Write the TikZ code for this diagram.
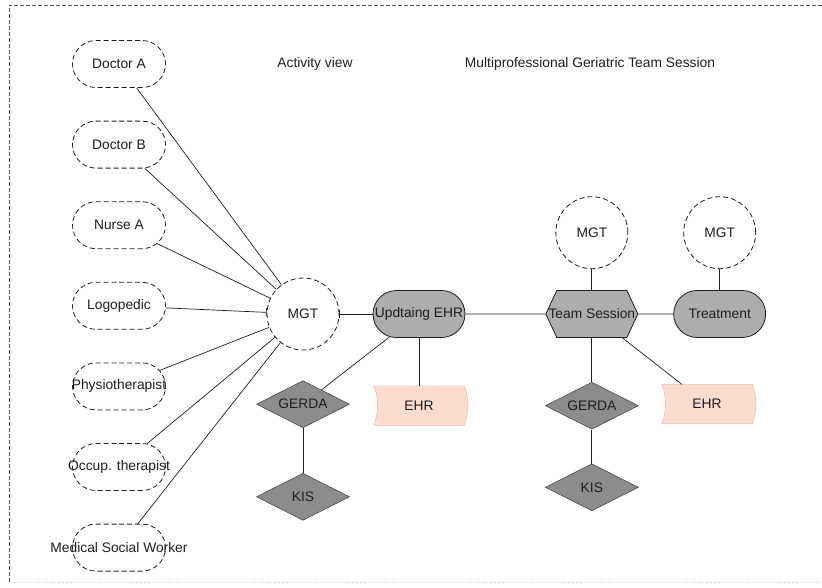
\documentclass[tikz,border=0pt]{standalone}
\usepackage{fontspec}
\setmainfont{Liberation Sans}
\usetikzlibrary{positioning,arrows.meta,shapes.geometric,shapes.misc,shapes.symbols,backgrounds,calc}
\definecolor{ink}{HTML}{1E1E1E}
\definecolor{framegray}{HTML}{555555}
\definecolor{procfill}{HTML}{ADADAD}
\definecolor{sysfill}{HTML}{8C8C8C}
\definecolor{docfill}{HTML}{FDDCCF}
\definecolor{docedge}{HTML}{EDC2B2}

\begin{document}
\begin{tikzpicture}[x=1pt,y=-1pt,font=\fontsize{13.8}{16}\selectfont,text=ink,
  tight/.style={inner sep=0pt,execute at begin node={\hbox to 0pt\bgroup\hss},
                execute at end node={\hss\egroup}},
  role/.style={tight,rounded rectangle,draw=ink,dash pattern=on 5pt off 3pt,line width=0.8pt,
               minimum width=93pt,minimum height=47pt},
  team/.style={tight,circle,draw=ink,dash pattern=on 5pt off 3pt,line width=0.8pt,
               minimum size=72pt,fill=white},
  proc/.style={tight,rounded rectangle,draw=ink,line width=0.8pt,fill=procfill,
               minimum width=92pt,minimum height=47pt},
  sess/.style={tight,signal,signal to=east and west,signal pointer angle=130,draw=ink,
               line width=0.8pt,fill=procfill,minimum width=92pt,minimum height=47pt},
  sys/.style={tight,diamond,draw=ink!80,line width=0.6pt,fill=sysfill,
              minimum width=93pt,minimum height=47pt},
  store/.style={tight,minimum width=90pt,minimum height=39pt},
  link/.style={ink,line width=0.7pt}]
\useasboundingbox (0,0) rectangle (822,587);
% frame
\draw[framegray,dash pattern=on 4pt off 2pt,line width=0.7pt] (822,5) -- (9,5) -- (9,582);
\draw[framegray!25,dotted,line width=0.7pt] (9,582) -- (822,582);
% titles
\node (view) at (315,64) {Activity view};
\node (title) at (590,64) {Multiprofessional Geriatric Team Session};
% staff column, top to bottom
\node[role] (docA) at (119,64) {Doctor A};
\node[role,below=32.8pt of docA] (docB) {Doctor B};
\node[role,below=32.8pt of docB] (nurse) {Nurse A};
\node[role,below=32.8pt of nurse] (logo) {Logopedic};
\node[role,below=32.8pt of logo] (physio) {Physiotherapist};
\node[role,below=32.8pt of physio] (occup) {Occup. therapist};
\node[role,below=32.8pt of occup] (social) {Medical Social Worker};
% main row
\node[team] (mgt) at (303,314) {MGT};
\node[proc] (upd) at (419,314) {Updtaing EHR};
\node[sess,right=80pt of upd] (sess) {Team Session};
\node[proc,right=35pt of sess] (treat) {Treatment};
\node[team,above=21pt of sess] (mgtB) {MGT};
\node[team,above=21pt of treat] (mgtC) {MGT};
% systems and records
\node[sys,below=30pt of mgt] (gerdaA) {GERDA};
\node[sys,below=45pt of gerdaA] (kisA) {KIS};
\node[sys,below=44pt of sess] (gerdaB) {GERDA};
\node[sys,below=34pt of gerdaB] (kisB) {KIS};
\node[store,below=48pt of upd] (ehrA) {EHR};
\node[store] (ehrB) at (707,404) {EHR};
\begin{scope}[on background layer]
\foreach \n in {ehrA,ehrB}
  \filldraw[fill=docfill,draw=docedge,line width=0.6pt] (\n.north west)
    .. controls ($(\n.north west)+(5,12)$) and ($(\n.south west)+(5,-12)$) .. (\n.south west)
    -- (\n.south east)
    .. controls ($(\n.south east)+(5,-12)$) and ($(\n.north east)+(5,12)$) .. (\n.north east)
    -- cycle;
\end{scope}
% connectors
\foreach \n in {docA,docB,nurse,physio,occup,social}
  \draw[link] (\n) -- (mgt);
\draw[link,-{Bar[width=8pt]}] (logo) -- (mgt);
\draw[link,{Bar[width=8pt]}-] (mgt) -- (upd);
\draw[link] (upd) -- (sess);
\draw[link] (sess) -- (treat);
\draw[link] (mgtB) -- (sess);
\draw[link] (mgtC) -- (treat);
\draw[link] (upd) -- (gerdaA);
\draw[link] (upd) -- (ehrA);
\draw[link] (gerdaA) -- (kisA);
\draw[link] (sess) -- (gerdaB);
\draw[link] (gerdaB) -- (kisB);
\draw[link] (sess) -- (ehrB);
\end{tikzpicture}
\end{document}
